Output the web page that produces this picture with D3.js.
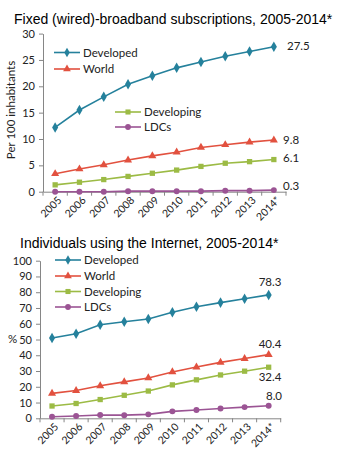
<!DOCTYPE html>
<html>
<head>
<meta charset="utf-8">
<script src="https://cdn.jsdelivr.net/npm/d3@7"></script>
<style>
  body { margin: 0; background: #fff; }
  svg { display: block; }
  .tick text { font-family: Lato, "Open Sans", sans-serif; font-size: 11px; fill: #222; }
  .title { font-family: "Liberation Sans", Arial, sans-serif; font-size: 14px; fill: #000; }
  .lbl { font-family: Lato, "Open Sans", sans-serif; font-size: 11.5px; fill: #222; }
</style>
</head>
<body>
<div id="chart"></div>
<script>
const years = ['2005', '2006', '2007', '2008', '2009', '2010', '2011', '2012', '2013', '2014*'];

// fixed broadband, per 100 inhabitants
const bbDeveloped = [12.2, 15.5, 18.0, 20.4, 22.0, 23.5, 24.6, 25.7, 26.6, 27.5];
const bbWorld = [3.4, 4.3, 5.1, 6.0, 6.8, 7.5, 8.4, 8.9, 9.4, 9.8];
const bbDeveloping = [1.3, 1.8, 2.3, 2.9, 3.5, 4.1, 4.8, 5.4, 5.7, 6.1];
const bbLDCs = [0.0, 0.0, 0.0, 0.1, 0.1, 0.1, 0.1, 0.2, 0.2, 0.3];

// internet users, %
const netDeveloped = [51.0, 53.7, 59.4, 61.3, 63.0, 67.3, 70.8, 73.4, 75.9, 78.3];
const netWorld = [15.8, 17.6, 20.6, 23.1, 25.6, 29.4, 32.5, 35.5, 37.9, 40.4];
const netDeveloping = [7.8, 9.4, 11.9, 14.6, 17.3, 21.2, 24.4, 27.5, 29.9, 32.4];
const netLDCs = [1.0, 1.5, 2.1, 2.0, 2.5, 4.4, 5.3, 6.2, 7.1, 8.0];

const colors = { Developed: '#25819c', World: '#e2513f', Developing: '#9cbb45', LDCs: '#9b5494' };
const shapes = { Developed: d3.symbolDiamond, World: d3.symbolTriangle, Developing: d3.symbolSquare, LDCs: d3.symbolCircle };

const svg = d3.select('#chart').append('svg')
    .attr('width', 343)
    .attr('height', 449);

function drawChart(cfg) {
    const x = d3.scaleBand().domain(years).range(cfg.xRange);
    const y = d3.scaleLinear().domain(cfg.yDomain).range(cfg.yRange);
    const cx = d => x(d) + x.bandwidth() / 2;
    const g = svg.append('g');

    g.append('text').attr('class', 'title')
        .attr('x', cfg.titleX).attr('y', cfg.titleY)
        .text(cfg.title);

    const yAxis = g.append('g')
        .attr('transform', `translate(${cfg.xRange[0]},0)`)
        .call(d3.axisLeft(y).tickValues(cfg.yTicks).tickSize(4).tickSizeOuter(0));
    yAxis.selectAll('text').attr('x', -8);

    const xAxis = g.append('g')
        .attr('transform', `translate(0,${cfg.yRange[0]})`)
        .call(d3.axisBottom(x).tickSize(0));
    // ticks go on category boundaries
    xAxis.selectAll('.tick line').remove();
    xAxis.selectAll('.bnd')
        .data(d3.range(years.length + 1))
        .enter().append('line')
        .attr('x1', i => cfg.xRange[0] + i * x.bandwidth())
        .attr('x2', i => cfg.xRange[0] + i * x.bandwidth())
        .attr('y1', 0).attr('y2', 4)
        .attr('stroke', '#868686');
    xAxis.selectAll('.tick text')
        .attr('text-anchor', 'end')
        .attr('dy', 0)
        .style('font-size', '10.5px')
        .attr('transform', 'translate(5,7) rotate(-45)');

    g.selectAll('.domain').attr('stroke', '#868686');
    g.selectAll('.tick line').attr('stroke', '#868686');

    const line = d3.line().x((d, i) => cx(years[i])).y(d => y(d));

    cfg.series.forEach(s => {
        g.append('path')
            .attr('d', line(s.values))
            .attr('fill', 'none')
            .attr('stroke', colors[s.name])
            .attr('stroke-width', 1.6);
        g.selectAll(null)
            .data(s.values)
            .enter().append('path')
            .attr('d', d3.symbol().type(shapes[s.name]).size(s.name === 'Developed' ? 32 : 28))
            .attr('transform', (d, i) => `translate(${cx(years[i])},${y(d)})`)
            .attr('fill', colors[s.name]);
        g.append('text').attr('class', 'lbl')
            .attr('x', s.lx).attr('y', s.ly)
            .attr('text-anchor', s.anchor || 'start')
            .text(s.values[s.values.length - 1].toFixed(1));
    });

    cfg.legend.forEach(l => {
        g.append('line')
            .attr('x1', l.x).attr('x2', l.x + 26)
            .attr('y1', l.y).attr('y2', l.y)
            .attr('stroke', colors[l.name])
            .attr('stroke-width', 1.6);
        g.append('path')
            .attr('d', d3.symbol().type(shapes[l.name]).size(26))
            .attr('transform', `translate(${l.x + 13},${l.y})`)
            .attr('fill', colors[l.name]);
        g.append('text').attr('class', 'lbl')
            .attr('x', l.x + 29).attr('y', l.y + 4)
            .text(l.name);
    });

    cfg.yLabel(g);
}

drawChart({
    title: 'Fixed (wired)-broadband subscriptions, 2005-2014*',
    titleX: 14, titleY: 24,
    xRange: [43, 286],
    yDomain: [0, 30], yRange: [191.7, 33.6],
    yTicks: [0, 5, 10, 15, 20, 25, 30],
    series: [
        { name: 'Developed', values: bbDeveloped, lx: 287, ly: 50 },
        { name: 'World', values: bbWorld, lx: 283, ly: 144 },
        { name: 'Developing', values: bbDeveloping, lx: 283, ly: 162 },
        { name: 'LDCs', values: bbLDCs, lx: 283, ly: 190 }
    ],
    legend: [
        { name: 'Developed', x: 54, y: 52.5 },
        { name: 'World', x: 54, y: 69 },
        { name: 'Developing', x: 115, y: 112 },
        { name: 'LDCs', x: 115, y: 127 }
    ],
    yLabel: g => g.append('text').attr('class', 'lbl')
        .attr('transform', 'translate(15,110) rotate(-90)')
        .attr('text-anchor', 'middle')
        .text('Per 100 inhabitants')
});

drawChart({
    title: 'Individuals using the Internet, 2005-2014*',
    titleX: 20, titleY: 248,
    xRange: [40, 280.7],
    yDomain: [0, 100], yRange: [418.3, 260.7],
    yTicks: d3.range(0, 101, 10),
    series: [
        { name: 'Developed', values: netDeveloped, lx: 270, ly: 286, anchor: 'middle' },
        { name: 'World', values: netWorld, lx: 270, ly: 348, anchor: 'middle' },
        { name: 'Developing', values: netDeveloping, lx: 270, ly: 381, anchor: 'middle' },
        { name: 'LDCs', values: netLDCs, lx: 274, ly: 400, anchor: 'middle' }
    ],
    legend: [
        { name: 'Developed', x: 55, y: 260 },
        { name: 'World', x: 55, y: 276 },
        { name: 'Developing', x: 55, y: 291.5 },
        { name: 'LDCs', x: 55, y: 307 }
    ],
    yLabel: g => g.append('text').attr('class', 'lbl')
        .attr('x', 8).attr('y', 343)
        .text('%')
});
</script>
</body>
</html>
